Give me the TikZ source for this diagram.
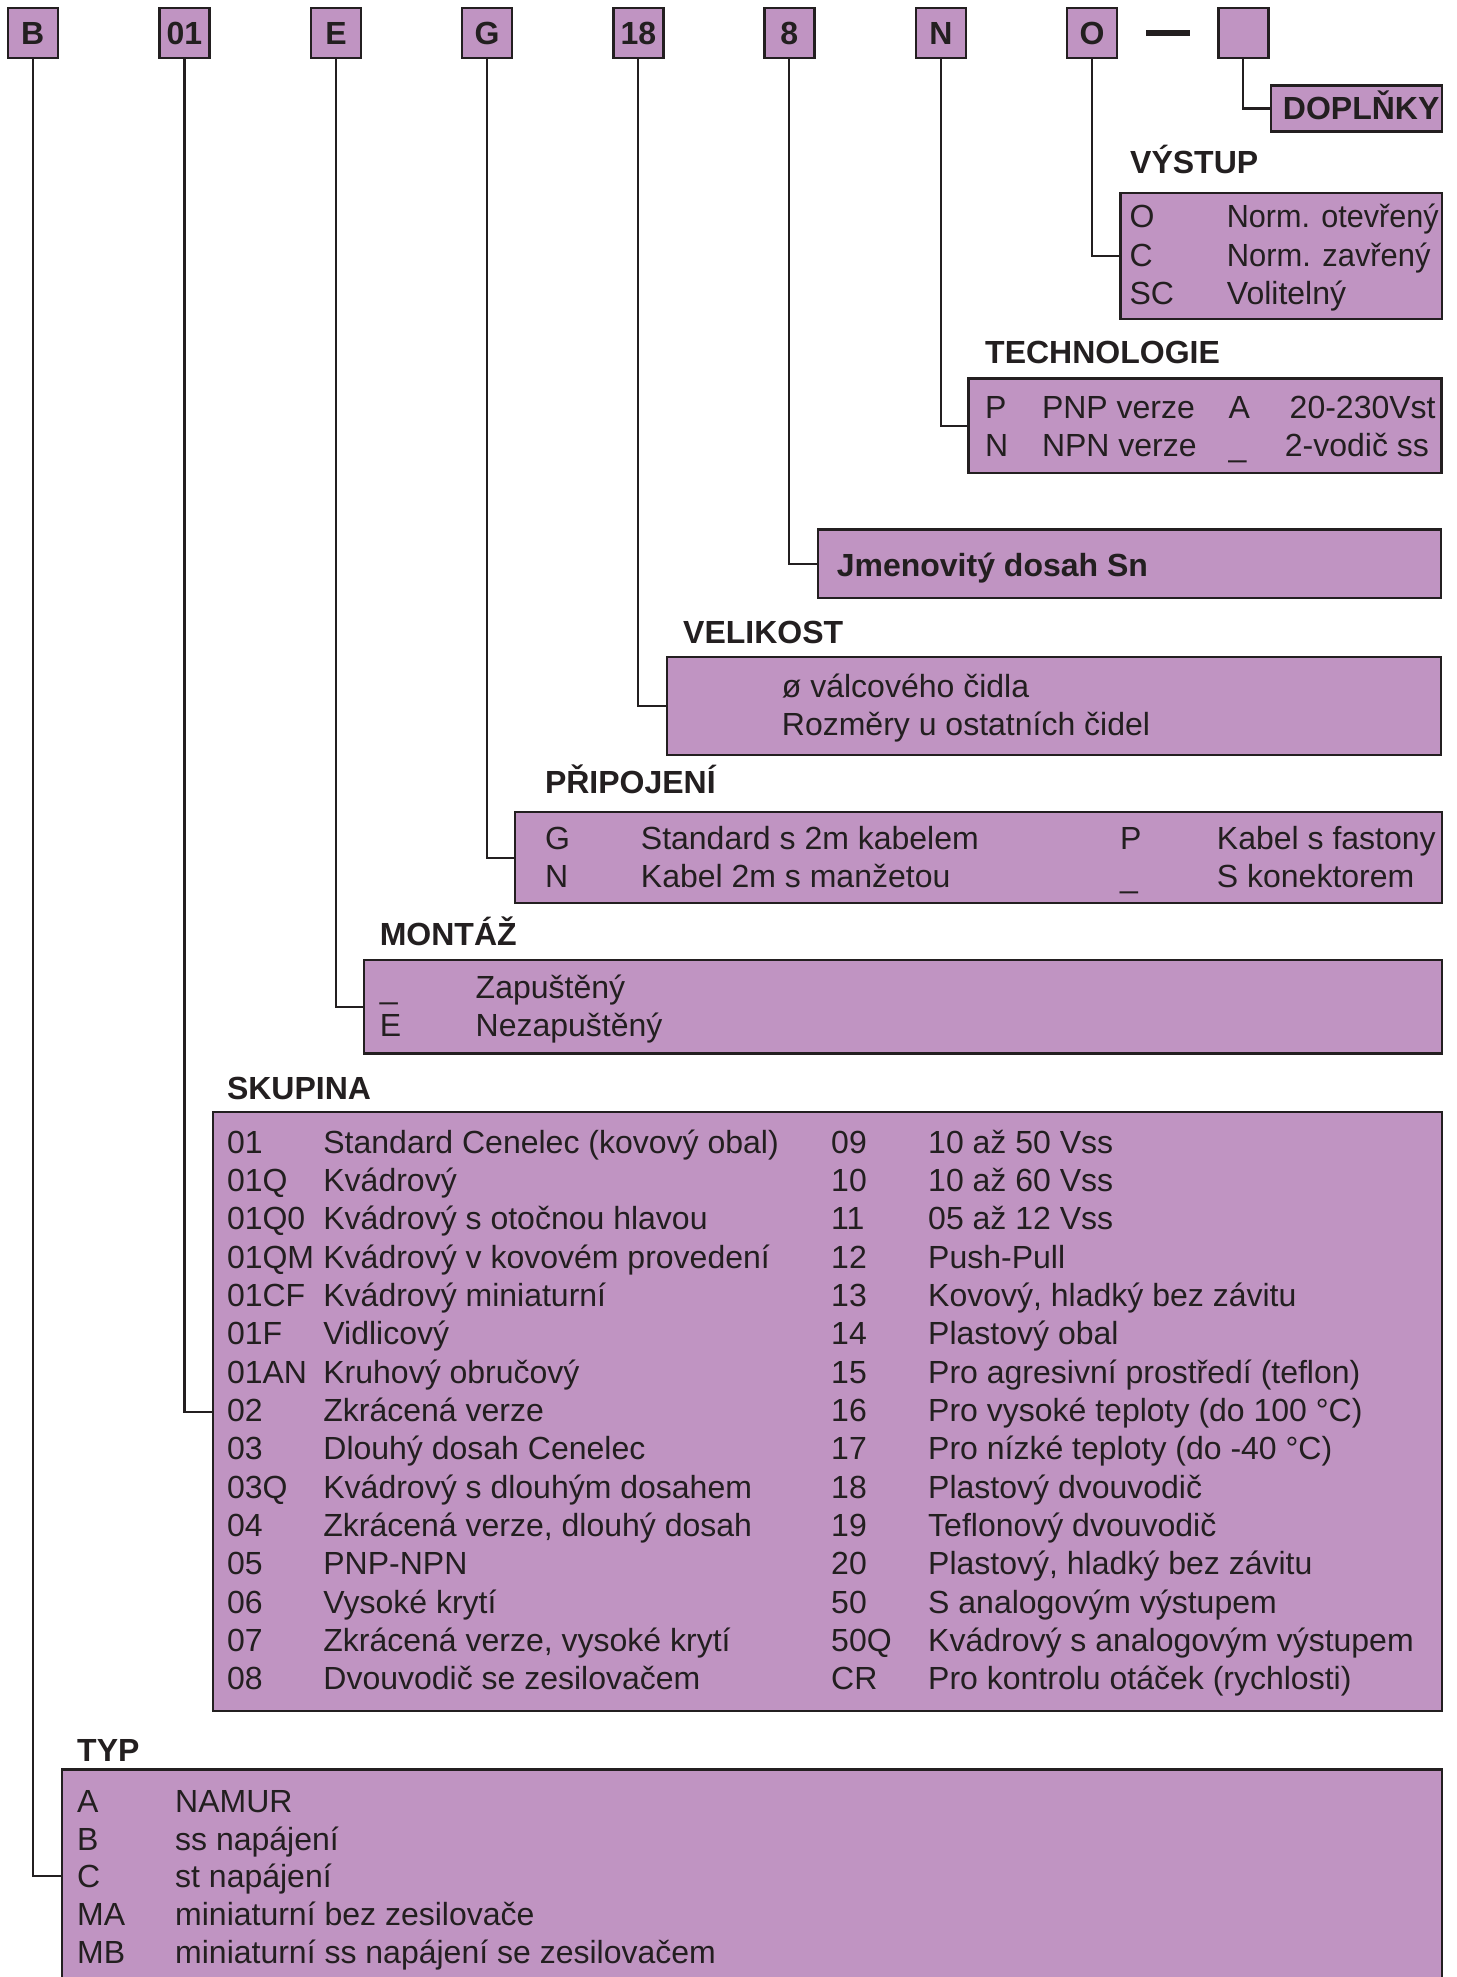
\documentclass[tikz,border=0pt]{standalone}
\usepackage{fontspec}
\setmainfont{Liberation Sans}
\definecolor{fillc}{HTML}{C094C2}
\definecolor{ink}{HTML}{231F20}
\newcommand\myskrow[5]{%
 \node[tx] (sa#1) at (226.8,{1153+38.35*#1}) {#2};
 \node[tx] (sb#1) at (323.2,{1153+38.35*#1}) {#3};
 \node[tx] (sc#1) at (831,{1153+38.35*#1}) {#4};
 \node[tx] (sd#1) at (928,{1153+38.35*#1}) {#5};}
\newcommand\mytyrow[3]{%
 \node[tx] (ya#1) at (77,{1812.5+37.7*#1}) {#2};
 \node[tx] (yb#1) at (175,{1812.5+37.7*#1}) {#3};}
\begin{document}
\begin{tikzpicture}[x=1pt,y=-1pt,
  bx/.style={draw=ink, fill=fillc, line width=2.4pt, inner sep=0pt, rectangle},
  hd/.style={bx, minimum width=50pt, minimum height=50pt, text=ink,
             font=\fontsize{32}{36}\selectfont\bfseries},
  conn/.style={draw=ink, line width=2.2pt},
  tx/.style={anchor=base west, inner sep=0pt, text=ink,
             font=\fontsize{32}{36}\selectfont},
  bt/.style={tx, font=\fontsize{32}{36}\selectfont\bfseries}]
\useasboundingbox (0,0) rectangle (1456,1977);

% header code boxes
\node[hd] (hB) at (32.7,33) {B};
\node[hd] (h01) at (184.5,33) {01};
\node[hd] (hE) at (336,33) {E};
\node[hd] (hG) at (487,33) {G};
\node[hd] (h18) at (638.3,33) {18};
\node[hd] (h8) at (789.3,33) {8};
\node[hd] (hN) at (940.8,33) {N};
\node[hd] (hO) at (1092,33) {O};
\node[hd] (hX) at (1243.3,33) {};
\draw[draw=ink, line width=6pt] (1146,33) -- (1190,33);

% description boxes
\node[bx, minimum width=171pt, minimum height=46pt] (dop) at (1356.6,108.5) {};
\node[bx, minimum width=321.6pt, minimum height=126pt] (vys) at (1281.3,255.8) {};
\node[bx, minimum width=473pt, minimum height=94.3pt] (tech) at (1205,425.6) {};
\node[bx, minimum width=622.6pt, minimum height=68.6pt] (jmen) at (1129.5,563.8) {};
\node[bx, minimum width=773.6pt, minimum height=97.6pt] (vel) at (1054,706) {};
\node[bx, minimum width=926.6pt, minimum height=91pt] (pri) at (978.5,857.7) {};
\node[bx, minimum width=1077.6pt, minimum height=93.3pt] (mon) at (903,1006.8) {};
\node[bx, minimum width=1229pt, minimum height=598.9pt] (sku) at (827.3,1411.7) {};
\node[bx, minimum width=1379.6pt, minimum height=213pt] (typ) at (752,1876) {};

% connectors
\draw[conn] (hB.south) |- (typ.west);
\draw[conn] (h01.south) |- (sku.west);
\draw[conn] (hE.south) |- (mon.west);
\draw[conn] (hG.south) |- (pri.west);
\draw[conn] (h18.south) |- (vel.west);
\draw[conn] (h8.south) |- (jmen.west);
\draw[conn] (hN.south) |- (tech.west);
\draw[conn] (hO.south) |- (vys.west);
\draw[conn] (hX.south) |- (dop.west);

% DOPLNKY
\node[bt] (tdop) at (1282.7,119.5) {DOPLŇKY};

% VYSTUP
\node[bt] (lvys) at (1130,174) {VÝSTUP};
\node[tx] (v1a) at (1129.3,228) {O};
\node[tx] (v1b) at (1226.7,228) {\scalebox{0.955}[1]{Norm. otevřený}};
\node[tx] (v2a) at (1129.3,266.3) {C};
\node[tx] (v2b) at (1226.7,266.3) {\scalebox{0.965}[1]{Norm. zavřený}};
\node[tx] (v3a) at (1129.3,304.6) {SC};
\node[tx] (v3b) at (1226.7,304.6) {Volitelný};

% TECHNOLOGIE
\node[bt] (ltech) at (985,363) {TECHNOLOGIE};
\node[tx] (t1a) at (985,418) {P};
\node[tx] (t1b) at (1041.8,418) {PNP verze};
\node[tx] (t1c) at (1228.5,418) {A};
\node[tx] (t1d) at (1289.5,418) {20-230Vst};
\node[tx] (t2a) at (985,456.3) {N};
\node[tx] (t2b) at (1041.8,456.3) {NPN verze};
\node[tx] (t2c) at (1228.5,456.3) {\_};
\node[tx] (t2d) at (1284.7,456.3) {2-vodič ss};

% JMENOVITY DOSAH
\node[bt] (tjmen) at (836.6,576) {Jmenovitý dosah Sn};

% VELIKOST
\node[bt] (lvel) at (683,643) {VELIKOST};
\node[tx] (e1) at (781.7,697) {ø válcového čidla};
\node[tx] (e2) at (781.7,735) {Rozměry u ostatních čidel};

% PRIPOJENI
\node[bt] (lpri) at (544.8,793.5) {PŘIPOJENÍ};
\node[tx] (p1a) at (544.8,849.5) {G};
\node[tx] (p1b) at (640.7,849.5) {Standard s 2m kabelem};
\node[tx] (p1c) at (1120,849.5) {P};
\node[tx] (p1d) at (1216.7,849.5) {Kabel s fastony};
\node[tx] (p2a) at (544.8,887.8) {N};
\node[tx] (p2b) at (640.7,887.8) {Kabel 2m s manžetou};
\node[tx] (p2c) at (1120,887.8) {\_};
\node[tx] (p2d) at (1216.7,887.8) {S konektorem};

% MONTAZ
\node[bt] (lmon) at (379.6,945) {MONTÁŽ};
\node[tx] (m1a) at (379.6,998.5) {\_};
\node[tx] (m1b) at (475.5,998.5) {Zapuštěný};
\node[tx] (m2a) at (379.6,1036.8) {E};
\node[tx] (m2b) at (475.5,1036.8) {Nezapuštěný};

% SKUPINA
\node[bt] (lsku) at (226.8,1099) {SKUPINA};
\myskrow{0}{01}{Standard Cenelec (kovový obal)}{09}{10 až 50 Vss}
\myskrow{1}{01Q}{Kvádrový}{10}{10 až 60 Vss}
\myskrow{2}{01Q0}{Kvádrový s otočnou hlavou}{11}{05 až 12 Vss}
\myskrow{3}{01QM}{Kvádrový v kovovém provedení}{12}{Push-Pull}
\myskrow{4}{01CF}{Kvádrový miniaturní}{13}{Kovový, hladký bez závitu}
\myskrow{5}{01F}{Vidlicový}{14}{Plastový obal}
\myskrow{6}{01AN}{Kruhový obručový}{15}{Pro agresivní prostředí (teflon)}
\myskrow{7}{02}{Zkrácená verze}{16}{Pro vysoké teploty (do 100 °C)}
\myskrow{8}{03}{Dlouhý dosah Cenelec}{17}{Pro nízké teploty (do -40 °C)}
\myskrow{9}{03Q}{Kvádrový s dlouhým dosahem}{18}{Plastový dvouvodič}
\myskrow{10}{04}{Zkrácená verze, dlouhý dosah}{19}{Teflonový dvouvodič}
\myskrow{11}{05}{PNP-NPN}{20}{Plastový, hladký bez závitu}
\myskrow{12}{06}{Vysoké krytí}{50}{S analogovým výstupem}
\myskrow{13}{07}{Zkrácená verze, vysoké krytí}{50Q}{Kvádrový s analogovým výstupem}
\myskrow{14}{08}{Dvouvodič se zesilovačem}{CR}{Pro kontrolu otáček (rychlosti)}

% TYP
\node[bt] (ltyp) at (77,1761) {TYP};
\mytyrow{0}{A}{NAMUR}
\mytyrow{1}{B}{ss napájení}
\mytyrow{2}{C}{st napájení}
\mytyrow{3}{MA}{miniaturní bez zesilovače}
\mytyrow{4}{MB}{miniaturní ss napájení se zesilovačem}
\end{tikzpicture}
\end{document}
